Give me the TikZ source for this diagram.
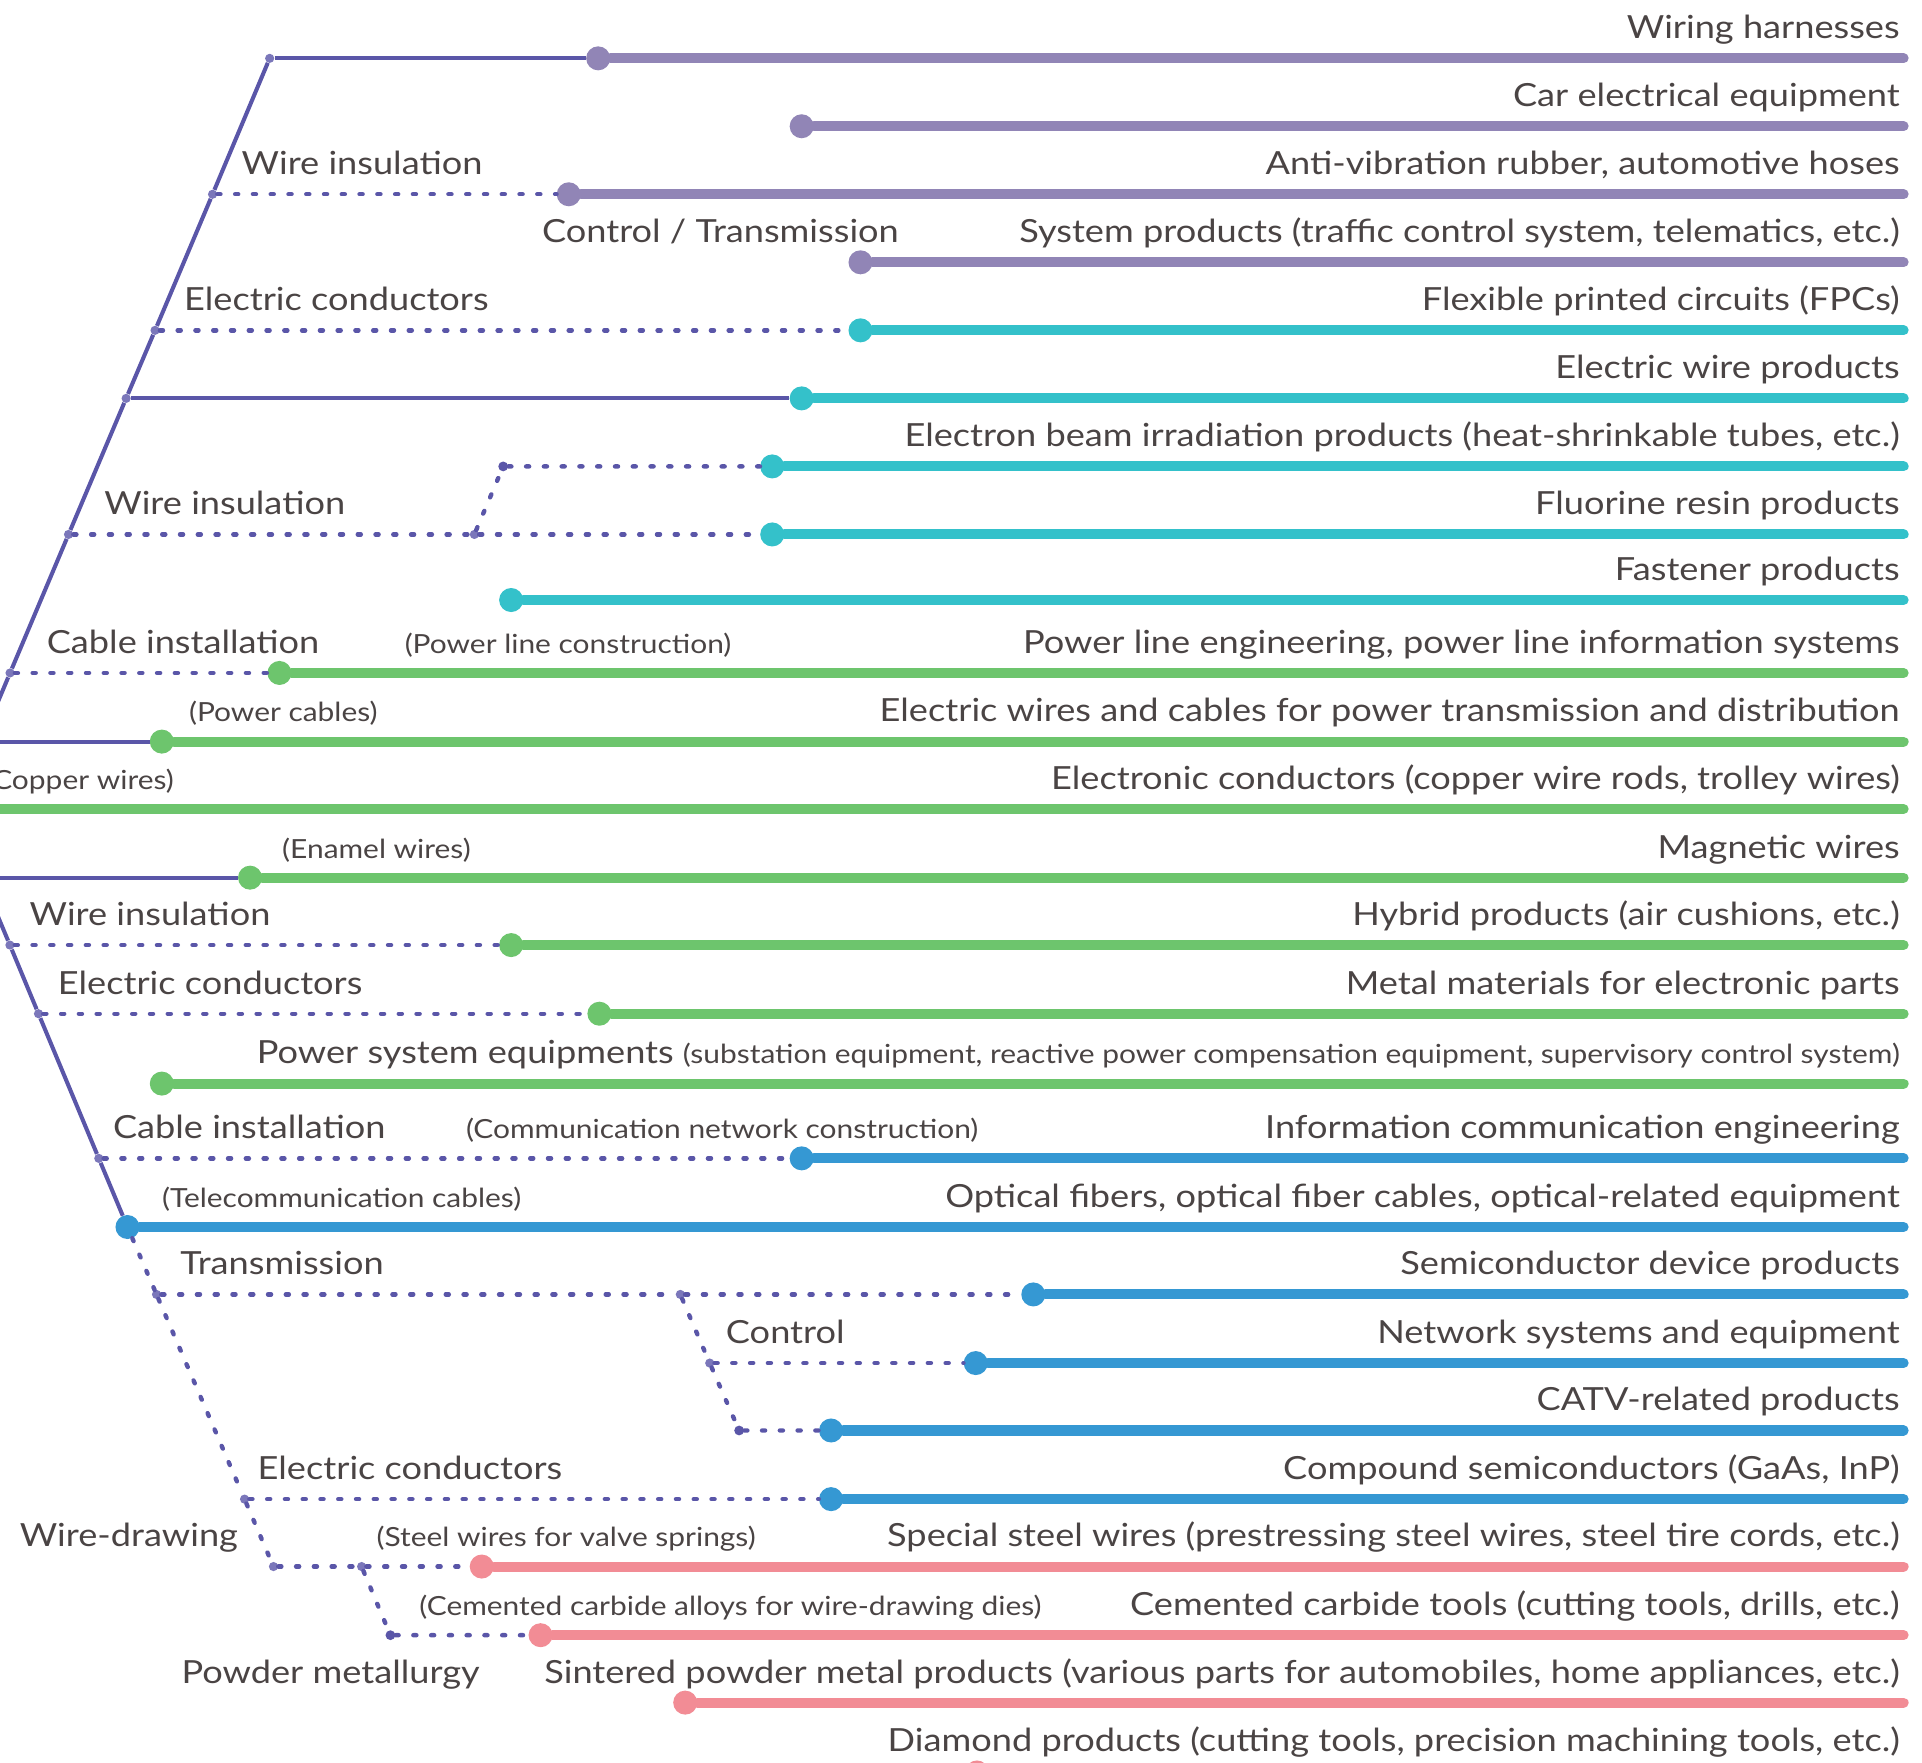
\documentclass[tikz,border=0pt]{standalone}
\usepackage{fontspec}
\setmainfont{Lato}[FakeStretch=1.135]
\definecolor{treec}{HTML}{5A56A8}
\definecolor{jointc}{HTML}{7B77BA}
\definecolor{txtc}{HTML}{4A4444}
\definecolor{purp}{HTML}{9185B6}
\definecolor{cyanc}{HTML}{34C1CA}
\definecolor{greenc}{HTML}{6DC56D}
\definecolor{bluec}{HTML}{3598D3}
\definecolor{pinkc}{HTML}{F28C95}
\newcommand{\smfont}{\fontsize{21.5}{26}\selectfont}

\begin{document}
\begin{tikzpicture}[x=1pt,y=-1pt,
  tree/.style={draw=treec, line width=3.3pt},
  dotline/.style={draw=treec, line width=3.6pt, line cap=round, dash pattern=on 2.5pt off 12pt},
  prod/.style={line width=8.2pt, line cap=round},
  pdot/.style={circle, fill, inner sep=0pt, minimum size=19.6pt},
  joint/.style={circle, fill=jointc, inner sep=0pt, minimum size=7.5pt},
  jend/.style={circle, fill=treec, inner sep=0pt, minimum size=8pt},
  lbl/.style={text=txtc, inner sep=0pt, font=\fontsize{26}{30}\selectfont},
  sml/.style={text=txtc, inner sep=0pt, font=\smfont}]
\useasboundingbox (0,0) rectangle (1568,1438);
\clip (0,0) rectangle (1568,1438);

% trunk
\coordinate (apex) at (-38.4,660);
\coordinate (tc0) at (-15.4,605);
\coordinate (tc1) at (-14.8,716);
\node[joint] (tj0) at (220,47.6){};
\node[joint] (tj1) at (173.4,158.5){};
\node[joint] (tj2) at (126.5,269.5){};
\node[joint] (tj3) at (102.9,325){};
\node[joint] (tj4) at (55.9,436){};
\node[joint] (tj5) at (8.2,549){};
\node[joint] (tj6) at (8.1,771){};
\node[joint] (tj7) at (31.4,827){};
\node[joint] (tj8) at (80.6,945){};
\node[joint] (tj9) at (127.7,1056){};
\node[joint] (tj10) at (199.5,1223){};
\node[joint] (tj11) at (223.1,1278){};
\node[joint] (tk1) at (387,436){};
\node[jend] (tk2) at (410.5,380.5){};
\node[joint] (tk3) at (555,1056){};
\node[joint] (tk4) at (579,1112){};
\node[jend] (tk5) at (603,1167){};
\node[joint] (tk6) at (295,1278){};
\node[jend] (tk7) at (318.5,1334){};

% product dots
\node[pdot, purp] (pd1) at (488,47.6){};
\node[pdot, purp] (pd2) at (654,103){};
\node[pdot, purp] (pd3) at (464,158.5){};
\node[pdot, purp] (pd4) at (702,214){};
\node[pdot, cyanc] (pd5) at (702,269.5){};
\node[pdot, cyanc] (pd6) at (654,325){};
\node[pdot, cyanc] (pd7) at (630,380.5){};
\node[pdot, cyanc] (pd8) at (630,436){};
\node[pdot, cyanc] (pd9) at (417,489.5){};
\node[pdot, greenc] (pd10) at (228,549){};
\node[pdot, greenc] (pd11) at (132,605){};
\node[pdot, greenc] (pd13) at (204,716){};
\node[pdot, greenc] (pd14) at (417,771){};
\node[pdot, greenc] (pd15) at (489,827){};
\node[pdot, greenc] (pd16) at (132,884){};
\node[pdot, bluec] (pd17) at (654,945){};
\node[pdot, bluec] (pd18) at (104,1001){};
\node[pdot, bluec] (pd19) at (843,1056){};
\node[pdot, bluec] (pd20) at (796,1112){};
\node[pdot, bluec] (pd21) at (678,1167){};
\node[pdot, bluec] (pd22) at (678,1223){};
\node[pdot, pinkc] (pd23) at (393,1278){};
\node[pdot, pinkc] (pd24) at (441,1334){};
\node[pdot, pinkc] (pd25) at (559,1389){};
\node[pdot, pinkc] (pd26) at (797,1446){};

% line ends
\coordinate (pe1) at (1553,47.6);
\coordinate (pe2) at (1553,103);
\coordinate (pe3) at (1553,158.5);
\coordinate (pe4) at (1553,214);
\coordinate (pe5) at (1553,269.5);
\coordinate (pe6) at (1553,325);
\coordinate (pe7) at (1553,380.5);
\coordinate (pe8) at (1553,436);
\coordinate (pe9) at (1553,489.5);
\coordinate (pe10) at (1553,549);
\coordinate (pe11) at (1553,605);
\coordinate (pe12) at (1553,660);
\coordinate (pe13) at (1553,716);
\coordinate (pe14) at (1553,771);
\coordinate (pe15) at (1553,827);
\coordinate (pe16) at (1553,884);
\coordinate (pe17) at (1553,945);
\coordinate (pe18) at (1553,1001);
\coordinate (pe19) at (1553,1056);
\coordinate (pe20) at (1553,1112);
\coordinate (pe21) at (1553,1167);
\coordinate (pe22) at (1553,1223);
\coordinate (pe23) at (1553,1278);
\coordinate (pe24) at (1553,1334);
\coordinate (pe25) at (1553,1389);
\coordinate (pe26) at (1553,1446);

% solid tree
\draw[tree](apex) -- (tj5) -- (tj4) -- (tj3) -- (tj2) -- (tj1) -- (tj0);
\draw[tree](apex) -- (tj6) -- (tj7) -- (tj8) -- (pd18);
\draw[tree](tj0) -- (pd1);
\draw[tree](tj3) -- (pd6);
\draw[tree](tc0) -- (pd11);
\draw[tree](tc1) -- (pd13);

% dotted tree
\draw[dotline](tj1) -- (pd3);
\draw[dotline](tj2) -- (pd5);
\draw[dotline](tj4) -- (tk1) -- (pd8);
\draw[dotline](tk1) -- (tk2) -- (pd7);
\draw[dotline](tj5) -- (pd10);
\draw[dotline](tj6) -- (pd14);
\draw[dotline](tj7) -- (pd15);
\draw[dotline](tj8) -- (pd17);
\draw[dotline](pd18) -- (tj9) -- (tj10) -- (tj11);
\draw[dotline](tj9) -- (tk3) -- (pd19);
\draw[dotline](tk3) -- (tk4) -- (tk5) -- (pd21);
\draw[dotline](tk4) -- (pd20);
\draw[dotline](tj10) -- (pd22);
\draw[dotline](tj11) -- (tk6) -- (pd23);
\draw[dotline](tk6) -- (tk7) -- (pd24);

% product lines
\draw[prod, purp](pd1) -- (pe1);
\draw[prod, purp](pd2) -- (pe2);
\draw[prod, purp](pd3) -- (pe3);
\draw[prod, purp](pd4) -- (pe4);
\draw[prod, cyanc](pd5) -- (pe5);
\draw[prod, cyanc](pd6) -- (pe6);
\draw[prod, cyanc](pd7) -- (pe7);
\draw[prod, cyanc](pd8) -- (pe8);
\draw[prod, cyanc](pd9) -- (pe9);
\draw[prod, greenc](pd10) -- (pe10);
\draw[prod, greenc](pd11) -- (pe11);
\draw[prod, greenc](apex) -- (pe12);
\draw[prod, greenc](pd13) -- (pe13);
\draw[prod, greenc](pd14) -- (pe14);
\draw[prod, greenc](pd15) -- (pe15);
\draw[prod, greenc](pd16) -- (pe16);
\draw[prod, bluec](pd17) -- (pe17);
\draw[prod, bluec](pd18) -- (pe18);
\draw[prod, bluec](pd19) -- (pe19);
\draw[prod, bluec](pd20) -- (pe20);
\draw[prod, bluec](pd21) -- (pe21);
\draw[prod, bluec](pd22) -- (pe22);
\draw[prod, pinkc](pd23) -- (pe23);
\draw[prod, pinkc](pd24) -- (pe24);
\draw[prod, pinkc](pd25) -- (pe25);
\draw[prod, pinkc](pd26) -- (pe26);

% product labels
\node[lbl, anchor=base east] (tx1) at (1550,31.6) {Wiring harnesses};
\node[lbl, anchor=base east] (tx2) at (1550,87) {Car electrical equipment};
\node[lbl, anchor=base east] (tx3) at (1550,142.5) {Anti-vibration rubber, automotive hoses};
\node[lbl, anchor=base east] (tx4) at (1550,198) {System products (traffic control system, telematics, etc.)};
\node[lbl, anchor=base east] (tx5) at (1550,253.5) {Flexible printed circuits (FPCs)};
\node[lbl, anchor=base east] (tx6) at (1550,309) {Electric wire products};
\node[lbl, anchor=base east] (tx7) at (1550,364.5) {Electron beam irradiation products (heat-shrinkable tubes, etc.)};
\node[lbl, anchor=base east] (tx8) at (1550,420) {Fluorine resin products};
\node[lbl, anchor=base east] (tx9) at (1550,473.5) {Fastener products};
\node[lbl, anchor=base east] (tx10) at (1550,533) {Power line engineering, power line information systems};
\node[lbl, anchor=base east] (tx11) at (1550,589) {Electric wires and cables for power transmission and distribution};
\node[lbl, anchor=base east] (tx12) at (1550,644) {Electronic conductors (copper wire rods, trolley wires)};
\node[lbl, anchor=base east] (tx13) at (1550,700) {Magnetic wires};
\node[lbl, anchor=base east] (tx14) at (1550,755) {Hybrid products (air cushions, etc.)};
\node[lbl, anchor=base east] (tx15) at (1550,811) {Metal materials for electronic parts};
\node[lbl, anchor=base east] (tx16) at (1550,868) {Power system equipments {\smfont (substation equipment, reactive power compensation equipment, supervisory control system)}};
\node[lbl, anchor=base east] (tx17) at (1550,929) {Information communication engineering};
\node[lbl, anchor=base east] (tx18) at (1550,985) {Optical fibers, optical fiber cables, optical-related equipment};
\node[lbl, anchor=base east] (tx19) at (1550,1040) {Semiconductor device products};
\node[lbl, anchor=base east] (tx20) at (1550,1096) {Network systems and equipment};
\node[lbl, anchor=base east] (tx21) at (1550,1151) {CATV-related products};
\node[lbl, anchor=base east] (tx22) at (1550,1207) {Compound semiconductors (GaAs, InP)};
\node[lbl, anchor=base east] (tx23) at (1550,1262) {Special steel wires (prestressing steel wires, steel tire cords, etc.)};
\node[lbl, anchor=base east] (tx24) at (1550,1318) {Cemented carbide tools (cutting tools, drills, etc.)};
\node[lbl, anchor=base east] (tx25) at (1550,1373) {Sintered powder metal products (various parts for automobiles, home appliances, etc.)};
\node[lbl, anchor=base east] (tx26) at (1550,1429) {Diamond products (cutting tools, precision machining tools, etc.)};

% branch labels
\node[lbl, anchor=base west] (lb1) at (197,142.5) {Wire insulation};
\node[lbl, anchor=base west] (lb2) at (442,198) {Control / Transmission};
\node[lbl, anchor=base west] (lb3) at (150,253.5) {Electric conductors};
\node[lbl, anchor=base west] (lb4) at (85,420) {Wire insulation};
\node[lbl, anchor=base west] (lb5) at (38,533) {Cable installation};
\node[sml, anchor=base west] (lb6) at (330,533) {(Power line construction)};
\node[sml, anchor=base west] (lb7) at (154,589) {(Power cables)};
\node[sml, anchor=base east] (lb8) at (142,644) {(Copper wires)};
\node[sml, anchor=base west] (lb9) at (230,700) {(Enamel wires)};
\node[lbl, anchor=base west] (lb10) at (24,755) {Wire insulation};
\node[lbl, anchor=base west] (lb11) at (47,811) {Electric conductors};
\node[lbl, anchor=base west] (lb12) at (92,929) {Cable installation};
\node[sml, anchor=base west] (lb13) at (380,929) {(Communication network construction)};
\node[sml, anchor=base west] (lb14) at (132,985) {(Telecommunication cables)};
\node[lbl, anchor=base west] (lb15) at (147,1040) {Transmission};
\node[lbl, anchor=base west] (lb16) at (592,1096) {Control};
\node[lbl, anchor=base west] (lb17) at (210,1207) {Electric conductors};
\node[lbl, anchor=base west] (lb18) at (16,1262) {Wire-drawing};
\node[sml, anchor=base west] (lb19) at (307,1262) {(Steel wires for valve springs)};
\node[sml, anchor=base west] (lb20) at (342,1318) {(Cemented carbide alloys for wire-drawing dies)};
\node[lbl, anchor=base west] (lb21) at (148,1373) {Powder metallurgy};

\end{tikzpicture}
\end{document}
